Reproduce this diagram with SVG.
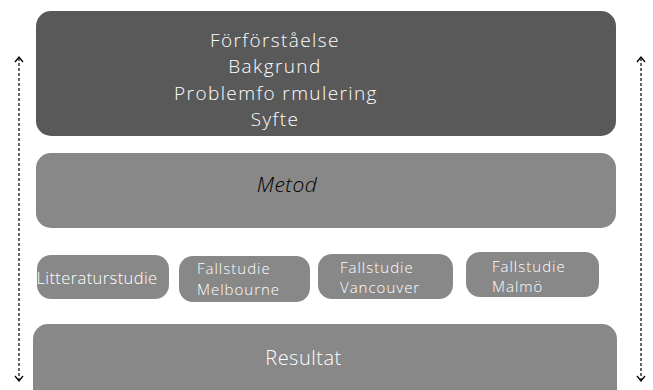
<svg xmlns="http://www.w3.org/2000/svg" width="653" height="390" viewBox="0 0 653 390">
<style>
.dark{fill:#595959}
.mid{fill:#888888}
.t{fill:#ffffff;font-family:"Open Sans","Liberation Sans",sans-serif;font-weight:300}
.big{font-size:21px;letter-spacing:0.5px}
.top{font-size:19px;letter-spacing:1.4px}
.sm{font-size:16.5px;letter-spacing:0.4px}
.two{font-size:15px;letter-spacing:1px}
.conn{stroke:#000;stroke-width:1.2;stroke-dasharray:3,2;fill:none}
.head{stroke:#000;stroke-width:1.3;fill:none}
</style>
<rect width="653" height="390" fill="#ffffff"/>
<g id="forforstaelse">
<rect class="dark" x="36" y="11" width="580" height="125" rx="15"/>
<text class="t top" text-anchor="middle"><tspan x="275" y="47">Förförståelse</tspan><tspan x="275" y="73.3">Bakgrund</tspan><tspan x="276" y="99.6">Problemfo rmulering</tspan><tspan x="275" y="126">Syfte</tspan></text>
</g>
<g id="metod">
<rect class="mid" x="36" y="153" width="580" height="75" rx="15"/>
<text class="t big" x="287" y="192" text-anchor="middle" font-style="italic" style="fill:#000000">Metod</text>
</g>
<g id="litteraturstudie">
<rect class="mid" x="37" y="255" width="132" height="44" rx="14"/>
<text class="t sm" x="97" y="283.5" text-anchor="middle">Litteraturstudie</text>
</g>
<g id="melbourne">
<rect class="mid" x="179" y="256" width="131" height="46" rx="14"/>
<text class="t two"><tspan x="197" y="274">Fallstudie</tspan><tspan x="197" y="294.5">Melbourne</tspan></text>
</g>
<g id="vancouver">
<rect class="mid" x="318" y="254" width="135" height="45" rx="14"/>
<text class="t two"><tspan x="340" y="272.5">Fallstudie</tspan><tspan x="340" y="293">Vancouver</tspan></text>
</g>
<g id="malmo">
<rect class="mid" x="466" y="252" width="133" height="45" rx="14"/>
<text class="t two"><tspan x="492" y="271.5">Fallstudie</tspan><tspan x="492" y="292">Malmö</tspan></text>
</g>
<g id="resultat">
<rect class="mid" x="33" y="324" width="584" height="80" rx="15"/>
<text class="t big" x="303.5" y="365" text-anchor="middle" style="font-size:20px">Resultat</text>
</g>
<g id="connectors">
<line class="conn" x1="19" y1="58" x2="19" y2="380"/>
<polyline class="head" points="15,62 19,57 23,62"/>
<polyline class="head" points="15,376 19,381 23,376"/>
<line class="conn" x1="641" y1="58" x2="641" y2="380"/>
<polyline class="head" points="637,62 641,57 645,62"/>
<polyline class="head" points="637,376 641,381 645,376"/>
</g>
</svg>
